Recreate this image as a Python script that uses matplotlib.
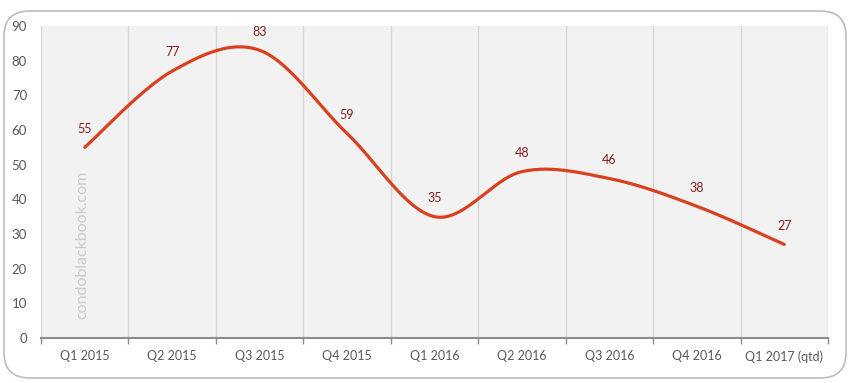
import numpy as np
import matplotlib
matplotlib.use("Agg")
import matplotlib.pyplot as plt
from matplotlib.patches import FancyBboxPatch

quarters = ["Q1 2015", "Q2 2015", "Q3 2015", "Q4 2015", "Q1 2016",
            "Q2 2016", "Q3 2016", "Q4 2016", "Q1 2017 (qtd)"]
values = [55, 77, 83, 59, 35, 48, 46, 38, 27]

plt.rcParams["font.family"] = ["Lato", "DejaVu Sans"]


def smooth(x, y, n=30):
    # excel-style smoothed line: bezier segments through every point
    x = np.asarray(x, float)
    y = np.asarray(y, float)
    px = np.concatenate([[x[0]], x, [x[-1]]])
    py = np.concatenate([[y[0]], y, [y[-1]]])
    xs, ys = [], []
    t = np.linspace(0, 1, n)
    for i in range(1, len(px) - 2):
        p0 = np.array([px[i], py[i]])
        p3 = np.array([px[i + 1], py[i + 1]])
        p1 = p0 + (np.array([px[i + 1], py[i + 1]]) - np.array([px[i - 1], py[i - 1]])) / 6
        p2 = p3 - (np.array([px[i + 2], py[i + 2]]) - np.array([px[i], py[i]])) / 6
        b = ((1 - t) ** 3)[:, None] * p0 + (3 * (1 - t) ** 2 * t)[:, None] * p1 \
            + (3 * (1 - t) * t ** 2)[:, None] * p2 + (t ** 3)[:, None] * p3
        xs.append(b[:, 0])
        ys.append(b[:, 1])
    return np.concatenate(xs), np.concatenate(ys)


fig = plt.figure(figsize=(8.52, 3.83), dpi=100)
box = FancyBboxPatch((4 / 852, 5 / 383), 842 / 852, 367 / 383,
                     boxstyle="round,pad=0,rounding_size=0.03",
                     transform=fig.transFigure, facecolor="white",
                     edgecolor="#bdbdbd", linewidth=1.2, mutation_aspect=2.2, zorder=-5)
fig.patches.append(box)

ax = fig.add_axes([41 / 852, 45 / 383, 787 / 852, 312 / 383])
ax.set_facecolor("#f2f2f2")

x = np.arange(len(quarters))
sx, sy = smooth(x, values)
ax.plot(sx, sy, color="#d9411e", linewidth=2.3, solid_capstyle="round", zorder=3)

for xi, v in zip(x, values):
    ax.annotate(str(v), (xi, v), xytext=(0, 13.5), textcoords="offset points",
                ha="center", va="center", color="#862020", fontsize=9)

ax.set_xlim(-0.5, len(quarters) - 0.5)
ax.set_ylim(0, 90)
ax.set_yticks(range(0, 91, 10))
ax.set_xticks(x)
ax.set_xticklabels(quarters)
ax.set_xticks(np.arange(-0.5, len(quarters)), minor=True)
ax.tick_params(axis="x", which="major", length=0, pad=9, labelsize=9, labelcolor="#595959")
ax.tick_params(axis="x", which="minor", length=4, width=1, color="#8c8c8c", direction="out")
ax.tick_params(axis="y", length=0, pad=10, labelsize=9.5, labelcolor="#595959")
ax.grid(axis="x", which="minor", color="#d4d4d4", linewidth=1)
ax.grid(axis="x", which="major", visible=False)
ax.set_axisbelow(True)
for s in ["top", "right", "left"]:
    ax.spines[s].set_visible(False)
ax.spines["bottom"].set_color("#8c8c8c")
ax.spines["bottom"].set_linewidth(1.5)

ax.text(-0.03, 26.8, "condoblackbook.com", rotation=90, ha="center", va="center",
        color="#cccccc", fontsize=11.5)

fig.savefig("out.png", dpi=100)
